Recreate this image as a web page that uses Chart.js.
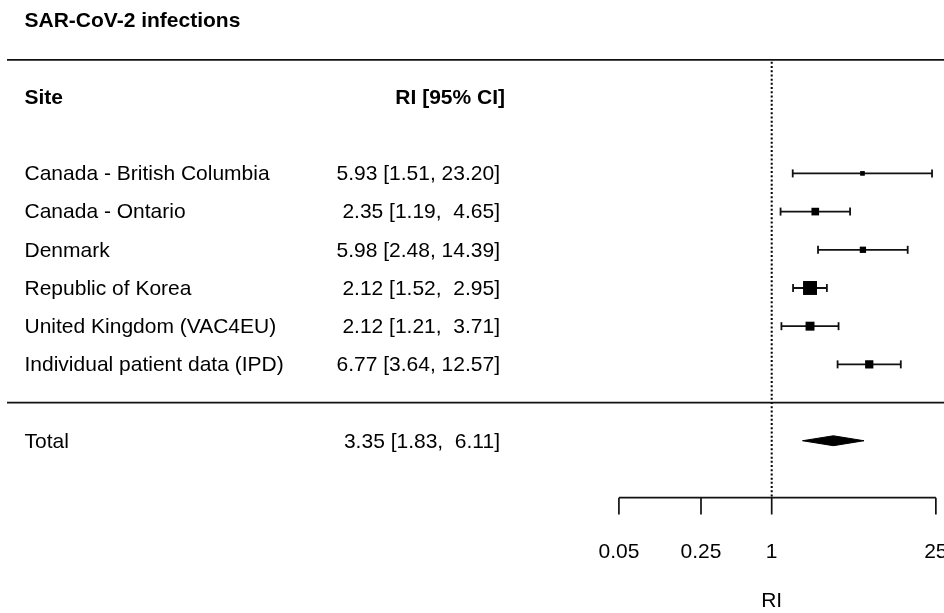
<!DOCTYPE html>
<html>
<head>
<meta charset="utf-8">
<title>SAR-CoV-2 infections</title>
<script src="https://cdn.jsdelivr.net/npm/chart.js@4.4.1/dist/chart.umd.min.js"></script>
<style>
  html, body { margin: 0; padding: 0; background: #fff; overflow: hidden; }
  canvas { display: block; }
</style>
</head>
<body>
<canvas id="forest" width="944" height="613"></canvas>
<script>

// DATOS DEL FOREST PLOT

let title = 'SAR-CoV-2 infections';
let headSite = 'Site';
let headRi = 'RI [95% CI]';
let sites = ['Canada - British Columbia', 'Canada - Ontario', 'Denmark', 'Republic of Korea', 'United Kingdom (VAC4EU)', 'Individual patient data (IPD)'];
let ri = [5.93, 2.35, 5.98, 2.12, 2.12, 6.77];
let ciLow = [1.51, 1.19, 2.48, 1.52, 1.21, 3.64];
let ciHigh = [23.20, 4.65, 14.39, 2.95, 3.71, 12.57];
let totalLabel = 'Total';
let totalRi = [3.35];
let totalLow = [1.83];
let totalHigh = [6.11];
let xTicks = [0.05, 0.25, 1, 25];
let xTickLabels = ['0.05', '0.25', '1', '25'];
let xTitle = 'RI';

// LAYOUT (filas de la tabla, de arriba hacia abajo)

let W = 944;
let PX_ONE = 771.7;      // pixel donde cae RI = 1
let PX_PER_LN = 51;      // pixels por unidad de log natural
let ROW_TITLE = -2.02, ROW_RULE_TOP = -0.97, ROW_HEAD = 0, ROW_FIRST = 2;
let ROW_RULE_MID = 8, ROW_TOTAL = 9, ROW_AXIS = 10.49, ROW_TICK_END = 10.93;
let ROW_TICK_LABEL = 11.9, ROW_XTITLE = 13.17;
let COL_SITE = 24.5, COL_RI = 500, COL_HEAD_RI = 505;
let TEXT_DY = 1;         // ajuste vertical del texto
let INK = '#111';

Chart.defaults.font.family = '"Liberation Sans", Arial, sans-serif';
Chart.defaults.font.size = 21;

function fmt(v, w){
    return v.toFixed(2).padStart(w, ' ');
}

function riText(est, lo, hi){
    return fmt(est, 4) + ' [' + fmt(lo, 4) + ', ' + fmt(hi, 5) + ']';
}

// tamaño del cuadrado segun el peso (1/se), como en metafor
let se = ciLow.map((lo, i) => (Math.log(ciHigh[i]) - Math.log(lo)) / 3.92);
let wi = se.map(s => 1 / s);
let wMin = Math.min(...wi), wMax = Math.max(...wi);
let boxSide = wi.map(w => 9.3 * (0.5 + (w - wMin) / (wMax - wMin)));

let rows = sites.map((s, i) => ROW_FIRST + i);

// DATASETS

let datasets = [];

// cuadrados
datasets.push({
    type: 'scatter',
    data: ri.map((v, i) => ({x: v, y: rows[i]})),
    pointStyle: 'rect',
    pointRadius: boxSide.map(s => s / Math.SQRT2),
    backgroundColor: '#000',
    borderColor: '#000',
    borderWidth: 0
});

// intervalos de confianza
sites.forEach((s, i) => {
    datasets.push({
        type: 'line',
        data: [{x: ciLow[i], y: rows[i]}, {x: ciHigh[i], y: rows[i]}],
        borderColor: INK,
        borderWidth: 1.8,
        pointStyle: 'line',
        rotation: 90,
        pointRadius: 4,
        pointBorderWidth: 1.8,
        pointBorderColor: INK,
        fill: false
    });
});

// diamante del total
datasets.push({
    type: 'line',
    data: [
        {x: totalLow[0], y: ROW_TOTAL},
        {x: totalRi[0], y: ROW_TOTAL - 0.13},
        {x: totalHigh[0], y: ROW_TOTAL},
        {x: totalRi[0], y: ROW_TOTAL + 0.13},
        {x: totalLow[0], y: ROW_TOTAL}
    ],
    borderColor: '#000',
    borderWidth: 1,
    backgroundColor: '#000',
    fill: 'shape',
    pointRadius: 0
});

// linea de referencia en RI = 1
datasets.push({
    type: 'line',
    data: [{x: 1, y: ROW_RULE_TOP + 0.05}, {x: 1, y: ROW_AXIS}],
    borderColor: '#000',
    borderWidth: 2,
    borderDash: [2, 2.2],
    pointRadius: 0,
    fill: false
});

// eje x
datasets.push({
    type: 'line',
    data: [{x: xTicks[0], y: ROW_AXIS}, {x: xTicks[xTicks.length - 1], y: ROW_AXIS}],
    borderColor: INK,
    borderWidth: 1.7,
    pointRadius: 0,
    fill: false
});
xTicks.forEach(t => {
    datasets.push({
        type: 'line',
        data: [{x: t, y: ROW_AXIS}, {x: t, y: ROW_TICK_END}],
        borderColor: INK,
        borderWidth: 1.7,
        pointRadius: 0,
        fill: false
    });
});

// TEXTOS Y LINEAS HORIZONTALES

let tableText = {
    id: 'tableText',
    afterDatasetsDraw(chart) {
        let c = chart.ctx;
        let sx = chart.scales.x, sy = chart.scales.y;
        let font = Chart.defaults.font.family;
        let ty = r => sy.getPixelForValue(r) + TEXT_DY;
        c.save();

        c.strokeStyle = INK;
        c.lineWidth = 1.7;
        [ROW_RULE_TOP, ROW_RULE_MID].forEach(r => {
            let py = sy.getPixelForValue(r);
            c.beginPath();
            c.moveTo(7, py);
            c.lineTo(W, py);
            c.stroke();
        });

        c.fillStyle = '#000';
        c.textBaseline = 'middle';

        c.font = 'bold 21px ' + font;
        c.textAlign = 'left';
        c.fillText(title, COL_SITE, ty(ROW_TITLE));
        c.fillText(headSite, COL_SITE, ty(ROW_HEAD));
        c.textAlign = 'right';
        c.fillText(headRi, COL_HEAD_RI, ty(ROW_HEAD));

        c.font = '21px ' + font;
        sites.forEach((s, i) => {
            c.textAlign = 'left';
            c.fillText(s, COL_SITE, ty(rows[i]));
            c.textAlign = 'right';
            c.fillText(riText(ri[i], ciLow[i], ciHigh[i]), COL_RI, ty(rows[i]));
        });

        c.textAlign = 'left';
        c.fillText(totalLabel, COL_SITE, ty(ROW_TOTAL));
        c.textAlign = 'right';
        c.fillText(riText(totalRi[0], totalLow[0], totalHigh[0]), COL_RI, ty(ROW_TOTAL));

        c.textAlign = 'center';
        xTicks.forEach((t, i) => {
            c.fillText(xTickLabels[i], sx.getPixelForValue(t), ty(ROW_TICK_LABEL));
        });
        c.fillText(xTitle, sx.getPixelForValue(1), ty(ROW_XTITLE));

        c.restore();
    }
};

var ctx = document.getElementById('forest');

var forest = new Chart(ctx, {
    type: 'scatter',
    data: { datasets: datasets },
    options: {
        responsive: false,
        animation: false,
        devicePixelRatio: 1,
        layout: { padding: 0, autoPadding: false },
        plugins: {
            legend: { display: false },
            tooltip: { enabled: false }
        },
        scales: {
            x: {
                type: 'logarithmic',
                display: false,
                min: Math.exp(-PX_ONE / PX_PER_LN),
                max: Math.exp((W - PX_ONE) / PX_PER_LN)
            },
            y: {
                type: 'linear',
                display: false,
                reverse: true,
                min: -2.54,
                max: 13.51
            }
        }
    },
    plugins: [tableText]
});

</script>
</body>
</html>
